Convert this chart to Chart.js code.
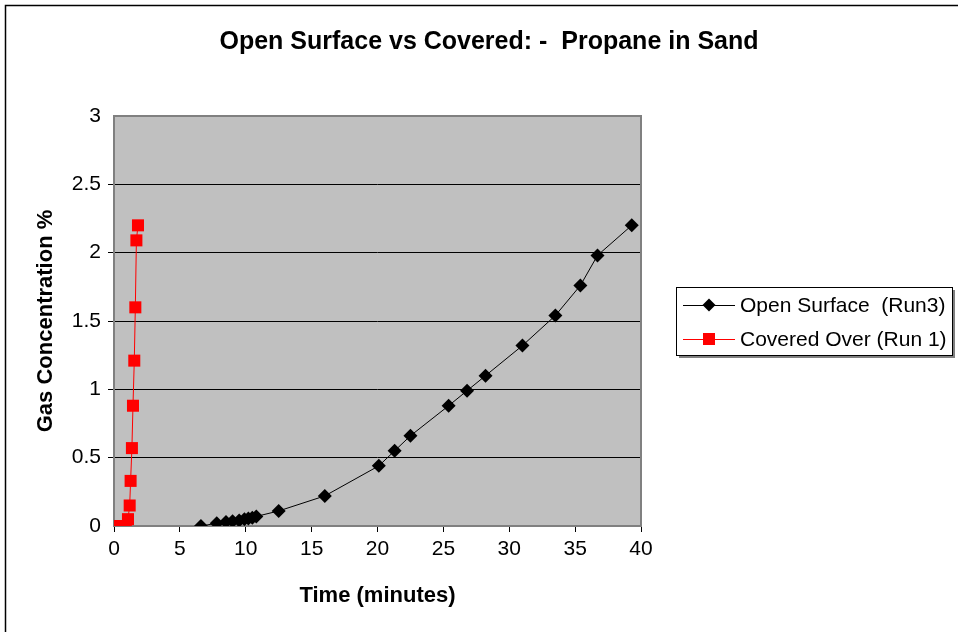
<!DOCTYPE html>
<html>
<head>
<meta charset="utf-8">
<script src="https://cdn.jsdelivr.net/npm/chart.js@4.4.0/dist/chart.umd.min.js"></script>
<style>
  html, body { margin: 0; padding: 0; background: #fff; }
  canvas { display: block; }
</style>
</head>
<body>
<canvas id="gasChart" width="958" height="632"></canvas>
<script>
// readings taken off the original chart
const openTime = [6.6, 7.8, 8.5, 9.0, 9.5, 9.9, 10.2, 10.5, 10.8, 12.5, 16.0, 20.1, 21.3, 22.5, 25.4, 26.8, 28.2, 31.0, 33.5, 35.4, 36.7, 39.3];
const openConc = [0, 0.02, 0.03, 0.035, 0.04, 0.05, 0.055, 0.06, 0.07, 0.11, 0.22, 0.44, 0.55, 0.66, 0.88, 0.99, 1.10, 1.32, 1.54, 1.76, 1.98, 2.20];

const coveredTime = [0, 0.4, 0.9, 1.06, 1.19, 1.26, 1.36, 1.44, 1.54, 1.62, 1.70, 1.82];
const coveredConc = [0, 0, 0, 0.05, 0.15, 0.33, 0.57, 0.88, 1.21, 1.60, 2.09, 2.20];

const xTicks = [0, 5, 10, 15, 20, 25, 30, 35, 40];
const yTicks = [0, 0.5, 1, 1.5, 2, 2.5, 3];

const seriesNames = ['Open Surface  (Run3)', 'Covered Over (Run 1)'];
const chartTitle = 'Open Surface vs Covered: -  Propane in Sand';

function toPoints(xs, ys) {
    return xs.map((x, i) => ({ x: x, y: ys[i] }));
}

// grey plot area + outer frame + title
const frame = {
    id: 'frame',
    beforeDraw(chart) {
        const ctx = chart.ctx;
        const a = chart.chartArea;
        ctx.save();
        ctx.fillStyle = '#fff';
        ctx.fillRect(0, 0, chart.width, chart.height);
        ctx.strokeStyle = '#000';
        ctx.lineWidth = 1.5;
        ctx.strokeRect(5.5, 5.5, chart.width + 20, chart.height + 20);
        ctx.fillStyle = '#c0c0c0';
        ctx.fillRect(a.left, a.top, a.right - a.left, a.bottom - a.top);
        ctx.fillStyle = '#000';
        ctx.font = 'bold 25px "Liberation Sans", Arial, sans-serif';
        ctx.textAlign = 'center';
        ctx.textBaseline = 'middle';
        ctx.fillText(chartTitle, 489, 42);
        ctx.restore();
    },
    beforeDatasetsDraw(chart) {
        const ctx = chart.ctx;
        const a = chart.chartArea;
        ctx.save();
        ctx.strokeStyle = '#808080';
        ctx.lineWidth = 2;
        ctx.strokeRect(a.left, a.top, a.right - a.left, a.bottom - a.top);
        ctx.restore();
    }
};

// boxed legend on the right, like the original
const sideLegend = {
    id: 'sideLegend',
    afterDraw(chart) {
        const ctx = chart.ctx;
        const x = 676, y = 287, w = 276, h = 68;
        ctx.save();
        ctx.fillStyle = '#808080';
        ctx.fillRect(x + 3, y + 3, w, h);
        ctx.fillStyle = '#fff';
        ctx.fillRect(x, y, w, h);
        ctx.strokeStyle = '#000';
        ctx.lineWidth = 1;
        ctx.strokeRect(x + 0.5, y + 0.5, w, h);
        ctx.font = '21px "Liberation Sans", Arial, sans-serif';
        ctx.textBaseline = 'middle';
        chart.data.datasets.forEach((ds, i) => {
            const ly = y + 18 + i * 34;
            ctx.strokeStyle = ds.borderColor;
            ctx.lineWidth = 1;
            ctx.beginPath();
            ctx.moveTo(683, ly + 0.5);
            ctx.lineTo(735, ly + 0.5);
            ctx.stroke();
            ctx.fillStyle = ds.pointBackgroundColor;
            if (ds.pointStyle === 'rectRot') {
                ctx.beginPath();
                ctx.moveTo(709, ly - 6.5);
                ctx.lineTo(715.5, ly);
                ctx.lineTo(709, ly + 6.5);
                ctx.lineTo(702.5, ly);
                ctx.closePath();
                ctx.fill();
            } else {
                ctx.fillRect(703, ly - 6, 12, 12);
            }
            ctx.fillStyle = '#000';
            ctx.textAlign = 'left';
            ctx.fillText(ds.label, 740, ly + 1);
        });
        ctx.restore();
    }
};

const tickFont = { family: '"Liberation Sans", Arial, sans-serif', size: 21 };
const titleFont = { family: '"Liberation Sans", Arial, sans-serif', size: 22, weight: 'bold' };

new Chart(document.getElementById('gasChart').getContext('2d'), {
    type: 'scatter',
    data: {
        datasets: [{
            label: seriesNames[0],
            data: toPoints(openTime, openConc),
            showLine: true,
            borderColor: '#000',
            borderWidth: 1,
            pointStyle: 'rectRot',
            pointRadius: 7,
            pointBackgroundColor: '#000',
            pointBorderColor: '#000',
            pointBorderWidth: 0,
            tension: 0
        }, {
            label: seriesNames[1],
            data: toPoints(coveredTime, coveredConc),
            showLine: true,
            borderColor: '#ff0000',
            borderWidth: 1,
            pointStyle: 'rect',
            pointRadius: 8.5,
            pointBackgroundColor: '#ff0000',
            pointBorderColor: '#ff0000',
            pointBorderWidth: 0,
            tension: 0
        }]
    },
    options: {
        responsive: false,
        animation: false,
        layout: { padding: { left: 0, top: 116, right: 317, bottom: 0 } },
        plugins: {
            legend: { display: false },
            title: { display: false },
            tooltip: { enabled: false }
        },
        scales: {
            x: {
                type: 'linear',
                min: 0,
                max: 40,
                afterFit: s => { s.height = 106; },
                afterBuildTicks: s => { s.ticks = xTicks.map(v => ({ value: v })); },
                ticks: { font: tickFont, color: '#000', padding: 5, maxRotation: 0, callback: v => String(v) },
                grid: { drawOnChartArea: false, drawTicks: true, tickLength: 6, color: '#000' },
                border: { display: false },
                title: { display: true, text: 'Time (minutes)', font: titleFont, color: '#000', padding: { bottom: 23 } }
            },
            y: {
                type: 'linear',
                min: 0,
                max: 3,
                afterFit: s => { s.width = 114; },
                afterBuildTicks: s => { s.ticks = yTicks.map(v => ({ value: v })); },
                ticks: { font: tickFont, color: '#000', padding: 7, callback: v => String(v) },
                grid: {
                    drawTicks: true,
                    tickLength: 6,
                    color: ctx => (ctx.tick && (ctx.tick.value === 0 || ctx.tick.value === 3)) ? 'rgba(0,0,0,0)' : '#000',
                    lineWidth: 1
                },
                border: { display: false },
                title: { display: true, text: 'Gas Concentration %', font: titleFont, color: '#000', padding: { top: 33 } }
            }
        }
    },
    plugins: [frame, sideLegend]
});
</script>
</body>
</html>
